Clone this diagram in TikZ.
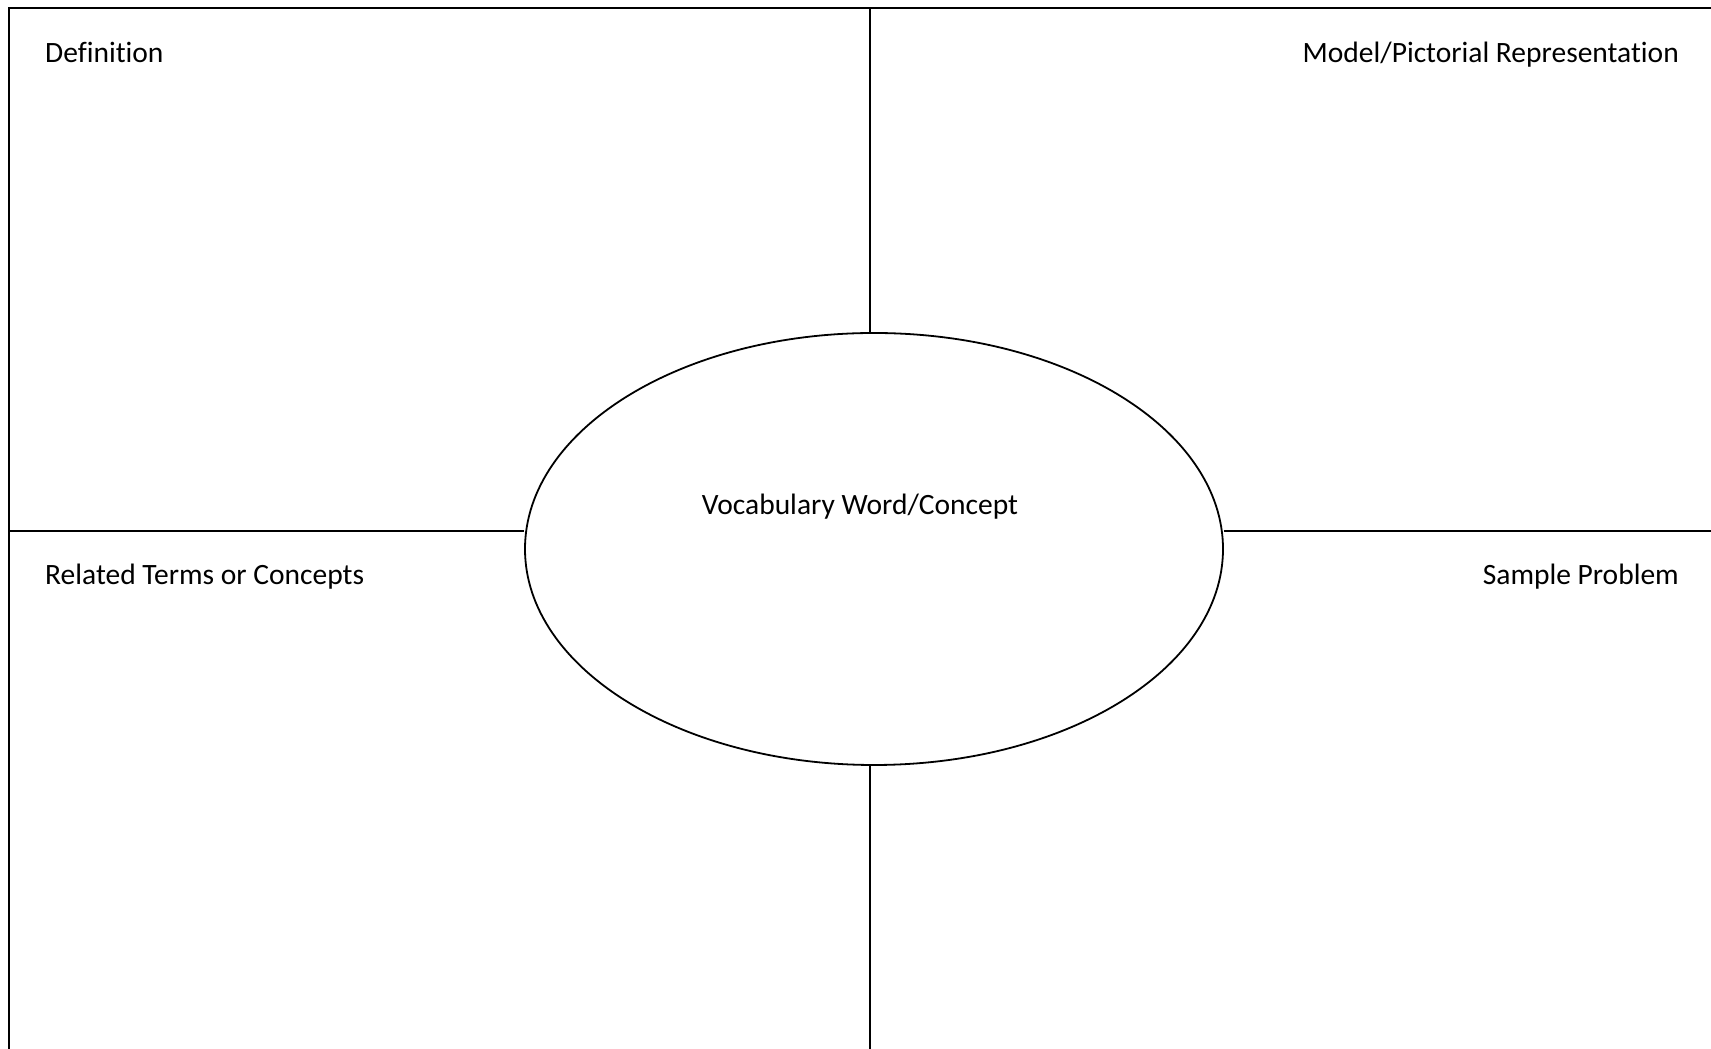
\documentclass[tikz,border=0pt]{standalone}
\usepackage{fontspec}
\setmainfont{Carlito}[Ligatures={NoCommon}]
\usetikzlibrary{shapes.geometric}
\begin{document}
\begin{tikzpicture}[x=1pt,y=1pt,
  frame/.style={line width=1.8pt,black},
  lbl/.style={font=\fontsize{29.5}{34}\selectfont,inner sep=0pt,text=black}]
\useasboundingbox (0,0) rectangle (1711,1049);
% ellipse (centre 874,549 in image coords)
\node[ellipse,draw,frame,minimum width=698pt,minimum height=432pt,inner sep=0pt] (center) at (874,{1049-549}) {};
\coordinate (tl) at (9,{1049-8});
\coordinate (tr) at (1711,{1049-8});
\coordinate (bl) at (9,0);
\coordinate (vt) at (870,{1049-8});
\coordinate (vb) at (870,0);
\coordinate (hl) at (9,{1049-531});
\coordinate (hr) at (1711,{1049-531});
\draw[frame] (bl) -- (tl) -- (tr);
\draw[frame] (vt) -- (vt |- center.north);
\draw[frame] (vb |- center.south) -- (vb);
\draw[frame] (hl) -- (center.west |- hl);
\draw[frame] (center.east |- hl) -- (hr);
\node[lbl,anchor=base west] (def) at (45,{1049-63}) {Definition};
\node[lbl,anchor=base east] (model) at (1679,{1049-63}) {Model/Pictorial Representation};
\node[lbl,anchor=base west] (rel) at (45,{1049-585}) {Related Terms or Concepts};
\node[lbl,anchor=base east] (samp) at (1679,{1049-585}) {Sample Problem};
\node[lbl,anchor=base] (voc) at (860,{1049-515}) {Vocabulary Word/Concept};
\end{tikzpicture}
\end{document}
